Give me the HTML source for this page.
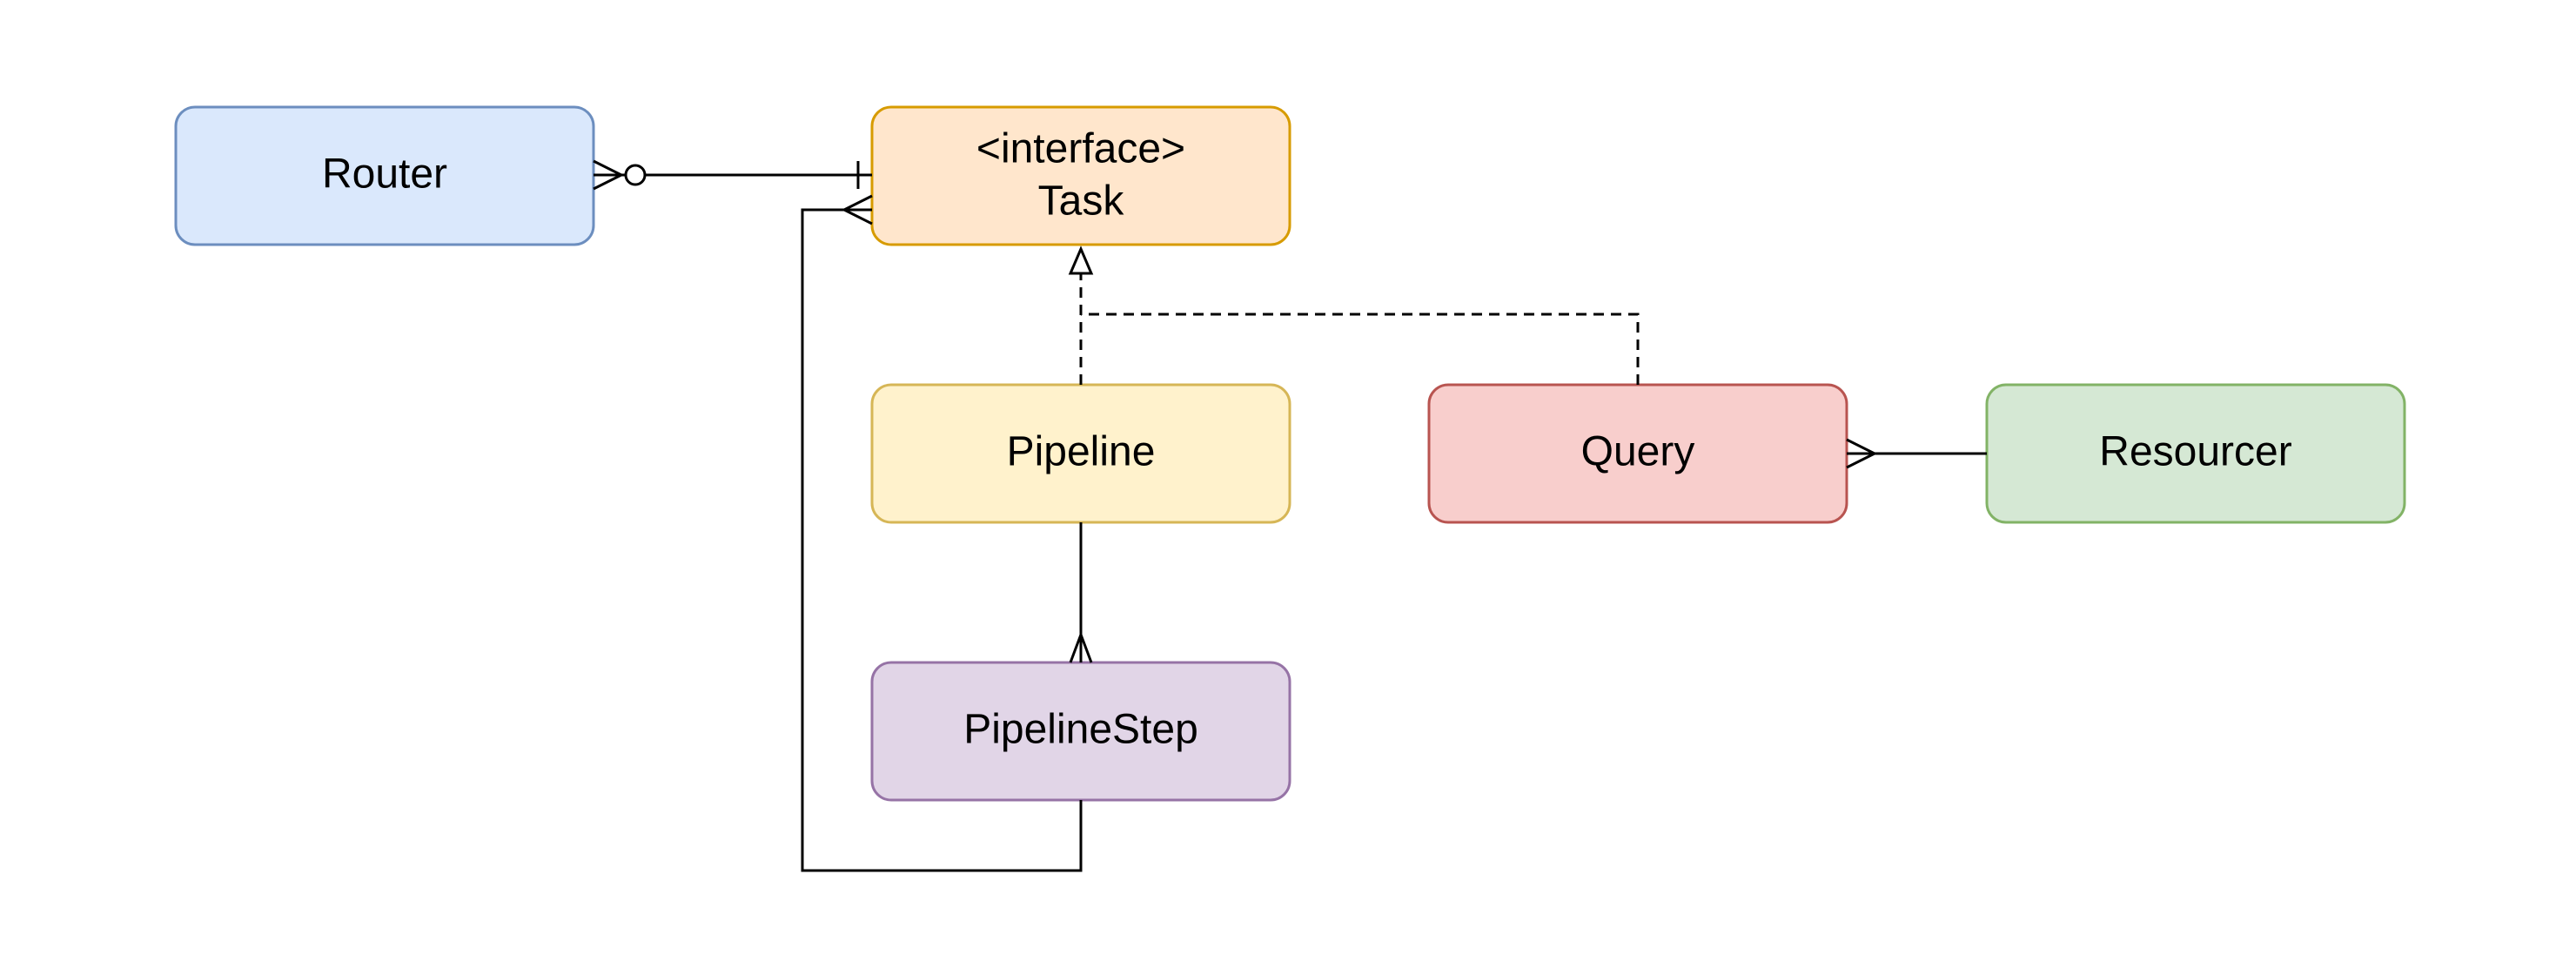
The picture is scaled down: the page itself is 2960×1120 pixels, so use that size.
<!DOCTYPE html>
<html><head><style>
html,body{margin:0;padding:0;background:#fff;}
svg{display:block}
text{font-family:"Liberation Sans",Arial,sans-serif;font-size:48px;fill:#000;text-anchor:middle;dominant-baseline:central}
</style></head><body>
<svg width="2960" height="1120" viewBox="0 0 2960 1120" xmlns="http://www.w3.org/2000/svg">
<g stroke-width="3">
<rect x="202" y="123" width="480" height="158" rx="22" fill="#dae8fc" stroke="#6c8ebf"/>
<rect x="1002" y="123" width="480" height="158" rx="22" fill="#ffe6cc" stroke="#d79b00"/>
<rect x="1002" y="442" width="480" height="158" rx="22" fill="#fff2cc" stroke="#d6b656"/>
<rect x="1002" y="761" width="480" height="158" rx="22" fill="#e1d5e7" stroke="#9673a6"/>
<rect x="1642" y="442" width="480" height="158" rx="22" fill="#f8cecc" stroke="#b85450"/>
<rect x="2283" y="442" width="480" height="158" rx="22" fill="#d5e8d4" stroke="#82b366"/>
</g>
<g fill="none" stroke="#000" stroke-width="3">
<line x1="682" y1="201" x2="1002" y2="201"/>
<path d="M682 185 L714 201 L682 217"/>
<circle cx="730" cy="201" r="11" fill="#fff"/>
<line x1="986" y1="185" x2="986" y2="217"/>
<path d="M1242 919 V1000 H922 V241 H1002"/>
<path d="M1002 225 L970 241 L1002 257"/>
<line x1="1242" y1="600" x2="1242" y2="761"/>
<path d="M1230 761 L1242 729 L1254 761"/>
<line x1="2122" y1="521" x2="2283" y2="521"/>
<path d="M2122 505 L2154 521 L2122 537"/>
<path d="M1242 442 V314" stroke-dasharray="12 8"/>
<path d="M1882 442 V361 H1242" stroke-dasharray="12 8"/>
<path d="M1242 286 L1254 314 L1230 314 Z" fill="#fff"/>
</g>
<text x="442" y="200">Router</text>
<text x="1242" y="171">&lt;interface&gt;</text>
<text x="1242" y="231">Task</text>
<text x="1242" y="519">Pipeline</text>
<text x="1242" y="838">PipelineStep</text>
<text x="1882" y="519">Query</text>
<text x="2523" y="519">Resourcer</text>
</svg>
</body></html>
